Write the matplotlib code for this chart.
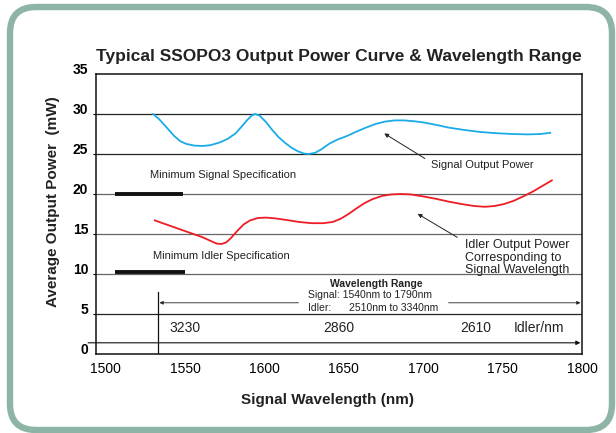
import matplotlib
matplotlib.use("Agg")
import matplotlib.pyplot as plt
import matplotlib.transforms as mtransforms
from matplotlib.patches import FancyBboxPatch

plt.rcParams['font.family'] = ['Liberation Sans', 'DejaVu Sans']

# signal output power
signal_nm = [1530, 1534, 1539, 1543, 1547, 1551, 1556, 1561, 1566, 1572, 1577, 1582,
             1586, 1589, 1592, 1594, 1597, 1601, 1605, 1609, 1613, 1617, 1621, 1625,
             1628, 1632, 1636, 1641, 1646, 1652, 1658, 1664, 1670, 1676, 1682, 1688,
             1694, 1700, 1708, 1716, 1726, 1736, 1746, 1756, 1766, 1774, 1780]
signal_mw = [30.0, 29.3, 28.2, 27.3, 26.6, 26.25, 26.05, 26.0, 26.1, 26.45, 26.9, 27.6,
             28.5, 29.2, 29.8, 30.0, 29.8, 29.0, 28.0, 27.1, 26.4, 25.8, 25.35, 25.05,
             25.0, 25.15, 25.6, 26.3, 26.8, 27.25, 27.8, 28.3, 28.75, 29.05, 29.2, 29.2,
             29.1, 28.95, 28.65, 28.3, 28.0, 27.75, 27.6, 27.5, 27.45, 27.5, 27.65]

# idler output power
idler_nm = [1531, 1541, 1551, 1561, 1566, 1570, 1573, 1576, 1579, 1583, 1587, 1591,
            1596, 1601, 1607, 1614, 1622, 1630, 1637, 1643, 1648, 1653, 1658, 1663,
            1668, 1674, 1680, 1686, 1692, 1700, 1708, 1716, 1724, 1732, 1739, 1745,
            1751, 1757, 1763, 1769, 1775, 1781]
idler_mw = [16.7, 16.0, 15.3, 14.6, 14.15, 13.8, 13.75, 13.95, 14.5, 15.4, 16.2, 16.7,
            17.0, 17.05, 16.95, 16.75, 16.5, 16.35, 16.35, 16.5, 16.9, 17.5, 18.2, 18.85,
            19.35, 19.75, 19.95, 20.0, 19.95, 19.7, 19.4, 19.05, 18.75, 18.5, 18.4, 18.5,
            18.75, 19.15, 19.7, 20.3, 21.0, 21.7]

# minimum specs: (start nm, end nm, level mW)
min_signal = (1506, 1549, 20.0)
min_idler = (1506, 1550, 10.3)

# idler wavelength scale shown under the range arrow
idler_pos = [1550, 1647, 1733]
idler_lbl = ['3230', '2860', '2610']

x_ticks = [1500, 1550, 1600, 1650, 1700, 1750, 1800]
y_ticks = [0, 5, 10, 15, 20, 25, 30, 35]
grid_levels = [5, 10, 15, 20, 25, 30]
grid_colors = ['#222222', '#666666', '#666666', '#666666', '#222222', '#222222']

W, H = 616, 433
fig = plt.figure(figsize=(W / 100, H / 100), dpi=100)
fig.patch.set_facecolor('white')

# rounded green frame
frame = FancyBboxPatch((10, 3), 602, 423, boxstyle='round,pad=0,rounding_size=26',
                       transform=mtransforms.IdentityTransform(),
                       lw=4.6, ec='#8db4a4', fc='none')
fig.add_artist(frame)

ax = fig.add_axes([96 / W, 1 - 354 / H, (582 - 96) / W, (354 - 74) / H])
ax.set_xlim(1494, 1800)
ax.set_ylim(0, 35)

for lev, c in zip(grid_levels, grid_colors):
    ax.axhline(lev, color=c, lw=0.9, zorder=1)

ax.plot(signal_nm, signal_mw, color='#1aabe6', lw=1.3, solid_joinstyle='round', zorder=3)
ax.plot(idler_nm, idler_mw, color='#ee1c25', lw=1.3, solid_joinstyle='round', zorder=3)

ax.plot(min_signal[:2], [min_signal[2]] * 2, color='#111111', lw=2.8, solid_capstyle='butt', zorder=4)
ax.plot(min_idler[:2], [min_idler[2]] * 2, color='#111111', lw=2.8, solid_capstyle='butt', zorder=4)

tc = '#222222'
ax.text(1528, 22.4, 'Minimum Signal Specification', fontsize=8, color=tc, va='center')
ax.text(1530, 12.25, 'Minimum Idler Specification', fontsize=8, color=tc, va='center')

ax.text(1705, 23.6, 'Signal Output Power', fontsize=8, color=tc, va='center')
ax.annotate('', xy=(1674, 27.75), xytext=(1702.6, 24.25),
            arrowprops=dict(arrowstyle='-|>', color=tc, lw=0.7, mutation_scale=6))

ax.text(1726.6, 12.05, 'Idler Output Power\nCorresponding to\nSignal Wavelength',
        fontsize=9, color=tc, va='center', ha='left', linespacing=1.05)
ax.annotate('', xy=(1695, 17.7), xytext=(1723, 14.4),
            arrowprops=dict(arrowstyle='-|>', color=tc, lw=0.7, mutation_scale=6))

# wavelength range block
ax.text(1670.4, 8.75, 'Wavelength Range', fontsize=7.5, fontweight='bold', ha='center', va='center', color=tc)
ax.text(1627.4, 7.4, 'Signal: 1540nm to 1790nm', fontsize=7.5, ha='left', va='center', color=tc)
ax.text(1627.4, 5.75, 'Idler:', fontsize=7.5, ha='left', va='center', color=tc)
ax.text(1653, 5.75, '2510nm to 3340nm', fontsize=7.5, ha='left', va='center', color=tc)
ax.annotate('', xy=(1534, 6.4), xytext=(1621.5, 6.4),
            arrowprops=dict(arrowstyle='-|>', color=tc, lw=0.6, mutation_scale=5, shrinkA=0, shrinkB=0))
ax.annotate('', xy=(1799, 6.4), xytext=(1716, 6.4),
            arrowprops=dict(arrowstyle='-|>', color=tc, lw=0.6, mutation_scale=5, shrinkA=0, shrinkB=0))
ax.plot([1533, 1533], [0, 7.7], color='#111111', lw=0.9, zorder=2)

for p, l in zip(idler_pos, idler_lbl):
    ax.text(p, 3.25, l, fontsize=10, ha='center', va='center', color=tc)
ax.text(1772.7, 3.25, 'Idler/nm', fontsize=10, ha='center', va='center', color=tc)

ax.annotate('', xy=(1799, 1.4), xytext=(1489, 1.4), annotation_clip=False,
            arrowprops=dict(arrowstyle='-|>', color='#111111', lw=0.8, mutation_scale=6, shrinkA=0, shrinkB=0))

ax.set_xticks(x_ticks)
ax.set_yticks(y_ticks)
ax.tick_params(axis='x', length=0, pad=6, labelsize=10)
ax.tick_params(axis='y', length=2.5, width=0.8, pad=3, labelsize=10)
for lab in ax.get_yticklabels():
    lab.set_fontweight('bold')
    lab.set_transform(lab.get_transform() + mtransforms.ScaledTranslation(0, 4 / 72, fig.dpi_scale_trans))
yt = ax.yaxis.get_major_ticks()
yt[0].tick1line.set_visible(False)
yt[-1].tick1line.set_visible(False)
for s in ax.spines.values():
    s.set_linewidth(1.1)
    s.set_color('#111111')

fig.text((99 + 578) / 2 / W, 1 - 57 / H, 'Typical SSOPO3 Output Power Curve & Wavelength Range',
         fontsize=12.5, fontweight='bold', ha='center', va='center', color='#222222')
fig.text(327 / W, 1 - 400 / H, 'Signal Wavelength (nm)', fontsize=11, fontweight='bold',
         ha='center', va='center', color='#222222')
fig.text(53 / W, 1 - 202 / H, 'Average Output Power  (mW)', fontsize=11, fontweight='bold',
         rotation=90, ha='center', va='center', color='#222222')

fig.savefig('out.png', dpi=100)
